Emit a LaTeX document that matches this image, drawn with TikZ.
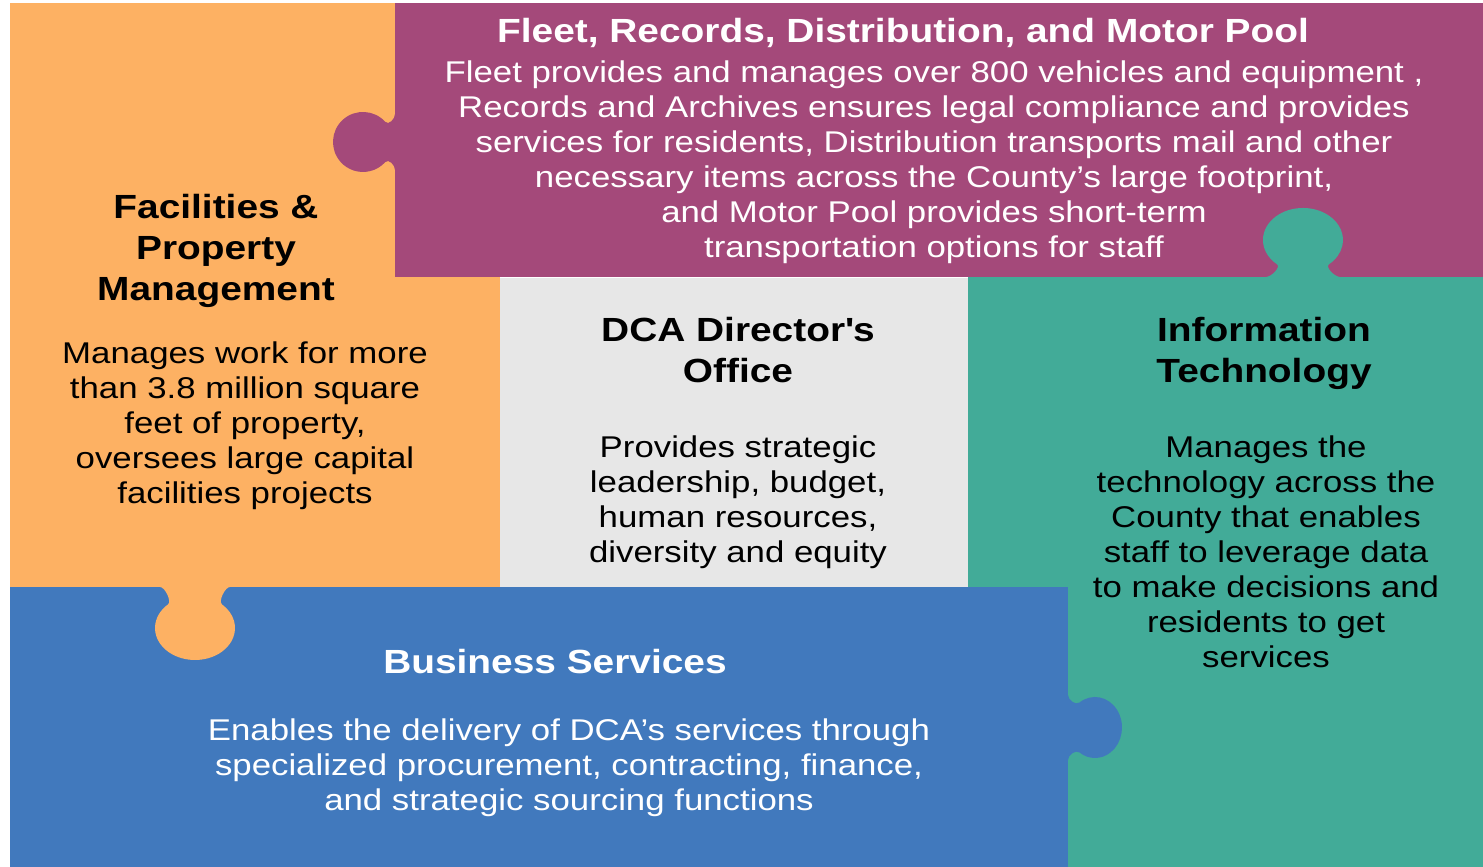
\documentclass[tikz,border=0pt]{standalone}
\usepackage{fontspec}
\setmainfont{Liberation Sans}[FakeStretch=1.16]
\definecolor{fpmorange}{RGB}{253,177,99}
\definecolor{fleetpurple}{RGB}{164,73,122}
\definecolor{dirgrey}{RGB}{231,231,231}
\definecolor{itteal}{RGB}{66,171,152}
\definecolor{bizblue}{RGB}{65,121,189}
\begin{document}
\begin{tikzpicture}[x=1pt,y=-1pt,
  headline/.style={font=\fontsize{33.5}{41}\selectfont\bfseries, align=center, inner sep=0pt},
  bodytext/.style={font=\fontsize{30}{35}\selectfont, align=center, inner sep=0pt},
  ondark/.style={text=white}]
% canvas
\fill[white] (0,0) rectangle (1483,867);
\useasboundingbox (0,0) rectangle (1483,867);

% Facilities & Property Management piece
\fill[fpmorange] (10,3) rectangle (500,587);

% Fleet piece with its tab into the orange piece
\fill[fleetpurple] (395,3) rectangle (1483,277);
\fill[fleetpurple] (395,114) .. controls (395,119) and (388.6,125.6) .. (385.3,121.9)
  arc[start angle=318, end angle=42, radius=30]
  .. controls (388.6,158.4) and (395,165) .. (395,170) -- cycle;

% Director's office piece
\fill[dirgrey] (500,278) rectangle (968,587);

% Information Technology piece with its tab into the fleet piece
\fill[itteal] (968,277) rectangle (1483,867);
\fill[itteal] (1266,277) .. controls (1271,277) and (1281.2,267.1) .. (1277,264.3)
  arc[start angle=130.5, end angle=409.5, x radius=40, y radius=32]
  .. controls (1324.8,267.1) and (1335,277) .. (1340,277) -- cycle;

% Business Services piece with its tab into the IT piece
\fill[bizblue] (10,587) rectangle (1068,867);
\fill[bizblue] (1068,695) .. controls (1068,700) and (1075.6,705.6) .. (1079.5,702.5)
  arc[start angle=235, end angle=485, x radius=27, y radius=30.5]
  .. controls (1075.6,749.4) and (1068,755) .. (1068,760) -- cycle;

% tab of the orange piece into the blue piece
\fill[fpmorange] (160,587) .. controls (165,587) and (172,601.5) .. (168,604.4)
  arc[start angle=227.5, end angle=-47.5, x radius=40, y radius=32]
  .. controls (218,601.5) and (225,587) .. (230,587) -- cycle;

% texts
\node[headline, ondark, anchor=base] (fleettitle) at (903,42.5)
  {Fleet, Records, Distribution, and Motor Pool};
\node[bodytext, ondark] (fleetbody) at (934,162.5)
  {Fleet provides and manages over 800 vehicles and equipment ,\\
   Records and Archives ensures legal compliance and provides\\
   services for residents, Distribution transports mail and other\\
   necessary items across the County’s large footprint,\\
   and Motor Pool provides short-term\\
   transportation options for staff};

\node[headline] (fpmtitle) at (216,250.5) {Facilities \&\\Property\\Management};
\node[bodytext] (fpmbody) at (245,426)
  {Manages work for more\\than 3.8 million square\\feet of property,\\oversees large capital\\facilities projects};

\node[headline] (dirtitle) at (738,350) {DCA Director\textquotesingle s\\Office};
\node[bodytext] (dirbody) at (738,502.5)
  {Provides strategic\\leadership, budget,\\human resources,\\diversity and equity};

\node[headline] (ittitle) at (1264,353) {Information\\Technology};
\node[bodytext] (itbody) at (1266,552)
  {Manages the\\technology across the\\County that enables\\staff to leverage data\\to make decisions and\\residents to get\\services};

\node[headline, ondark, anchor=base] (biztitle) at (555,673) {Business Services};
\node[bodytext, ondark] (bizbody) at (569,768)
  {Enables the delivery of DCA’s services through\\
   specialized procurement, contracting, finance,\\
   and strategic sourcing functions};
\end{tikzpicture}
\end{document}
